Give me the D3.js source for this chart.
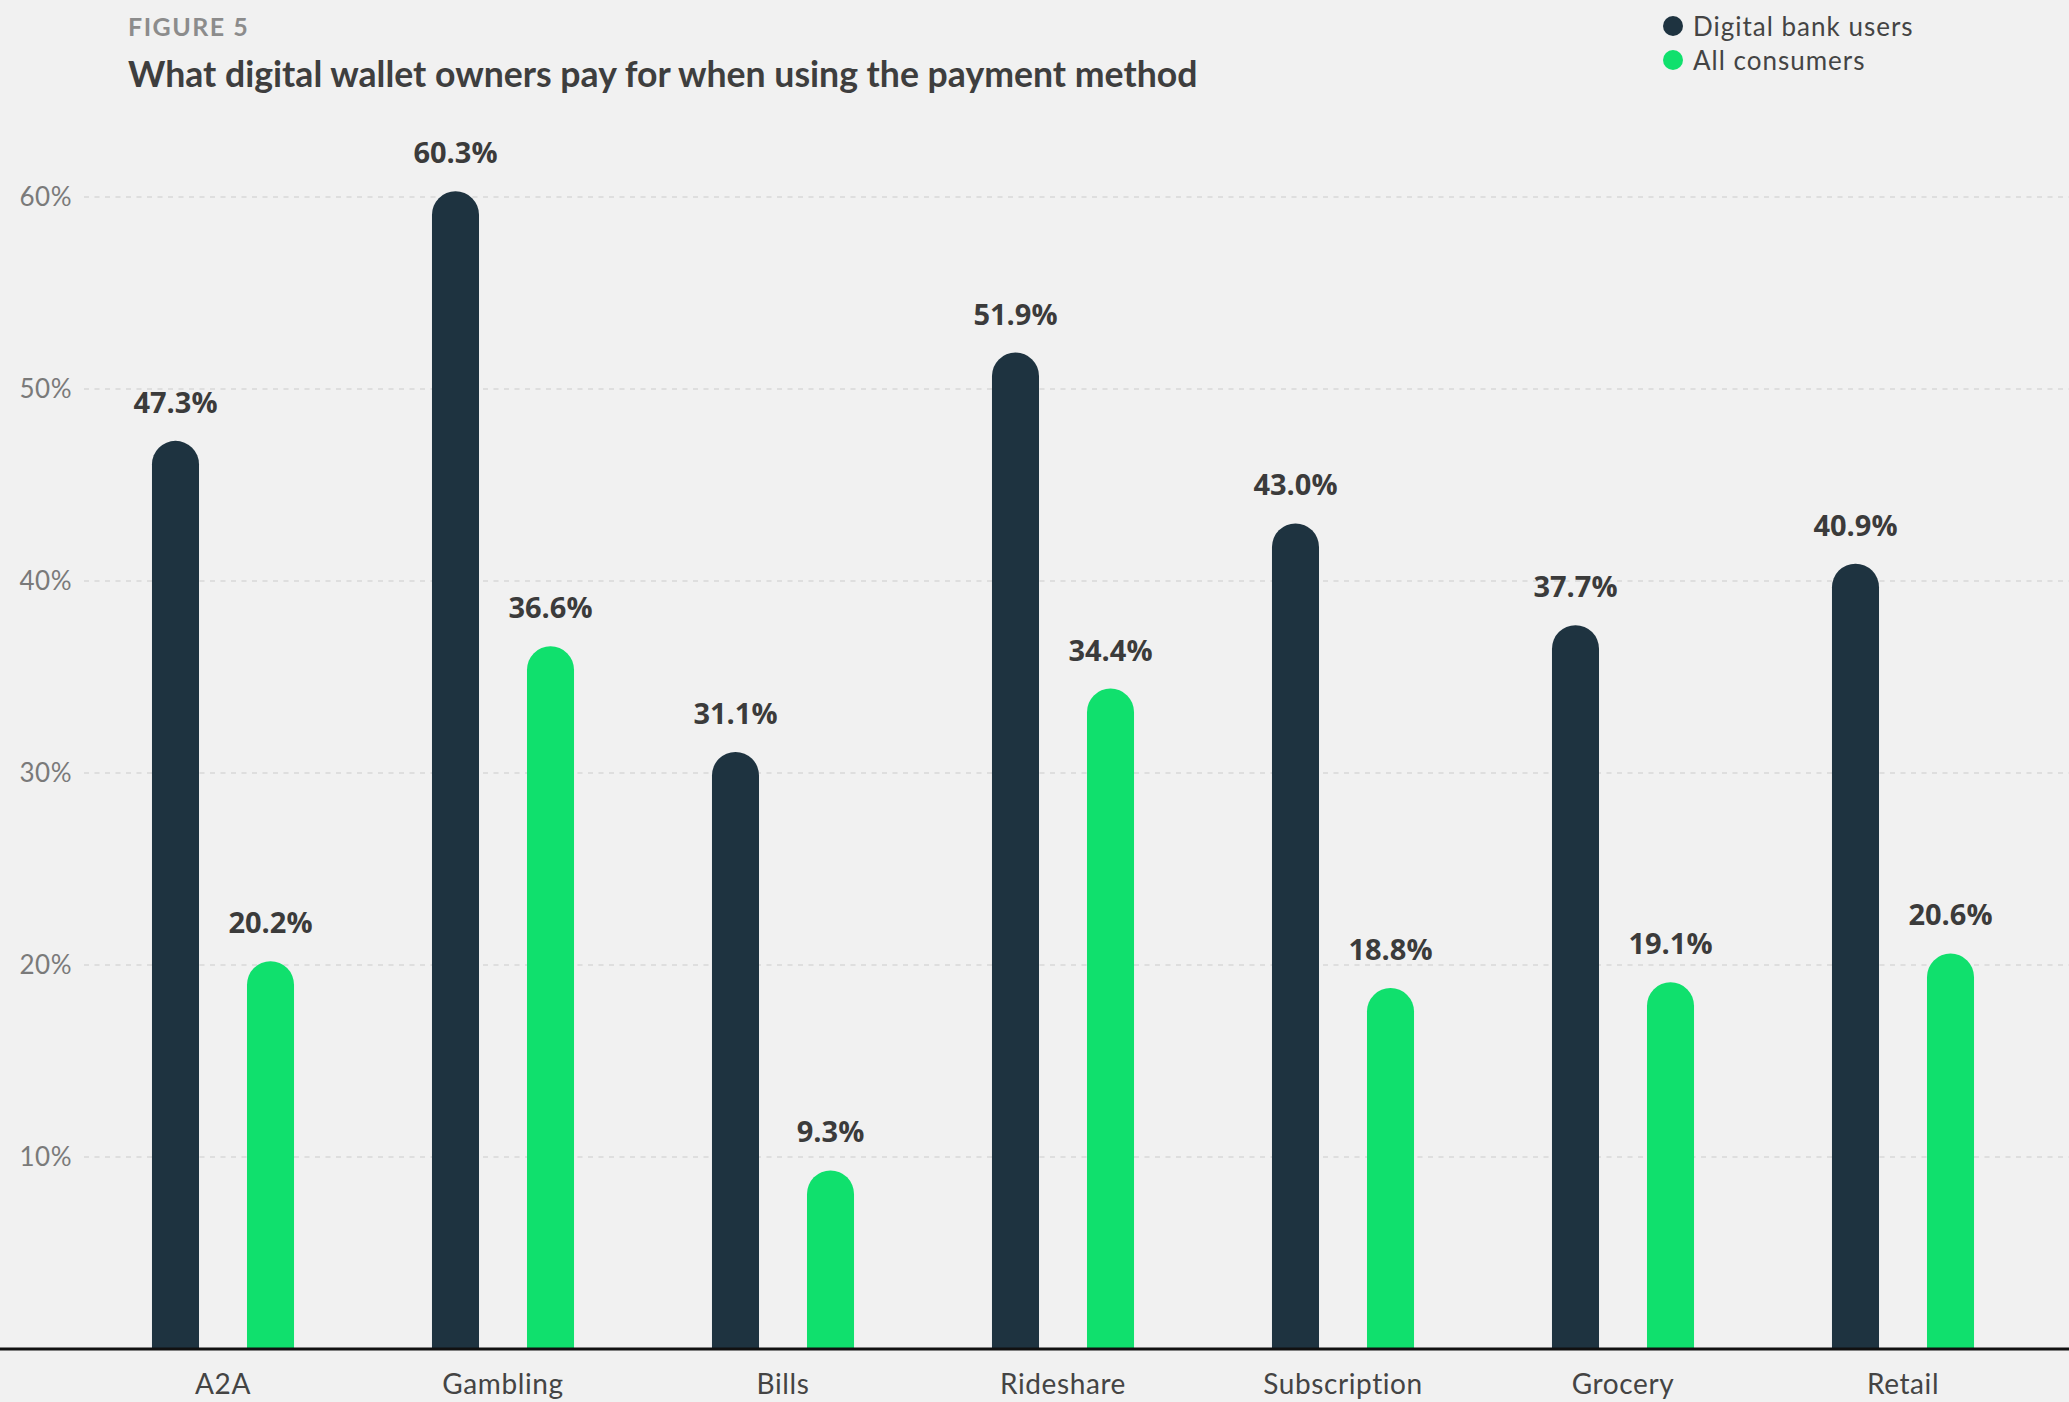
<!DOCTYPE html>
<html>
<head>
<meta charset="utf-8">
<script src="https://cdn.jsdelivr.net/npm/d3@7"></script>
<style>
  html, body { margin: 0; padding: 0; background: #f1f1f1; }
  svg { display: block; }
</style>
</head>
<body>
<svg id="chart" width="2069" height="1402"></svg>
<script>
const categories = ["A2A", "Gambling", "Bills", "Rideshare", "Subscription", "Grocery", "Retail"];
const seriesNames = ["Digital bank users", "All consumers"];
const digitalBankUsers = [47.3, 60.3, 31.1, 51.9, 43.0, 37.7, 40.9];
const allConsumers = [20.2, 36.6, 9.3, 34.4, 18.8, 19.1, 20.6];
const yTicks = [10, 20, 30, 40, 50, 60];
const colors = ["#1e3340", "#10e06d"];

const W = 2069, H = 1402;
const svg = d3.select("#chart");
svg.append("rect").attr("width", W).attr("height", H).attr("fill", "#f1f1f1");

const y = d3.scaleLinear().domain([0, 60]).range([1349, 197]);
const x0 = d3.scaleBand().domain(categories).range([83, 2043]).padding(0);
const x1 = d3.scaleBand().domain(seriesNames).range([0, x0.bandwidth()])
  .paddingInner(0.505).paddingOuter(0.726);

// gridlines
const grid = svg.append("g");
grid.selectAll("line").data(yTicks).join("line")
  .attr("x1", 84).attr("x2", W)
  .attr("y1", d => y(d)).attr("y2", d => y(d))
  .attr("stroke", "#cbcbcb").attr("stroke-width", 1.2)
  .attr("stroke-dasharray", "5,5.5");

// y axis labels
const yAxis = d3.axisLeft(y).tickValues(yTicks).tickFormat(d => d + "%").tickSize(0).tickPadding(0);
const ya = svg.append("g").attr("transform", "translate(72,0)").call(yAxis);
ya.select(".domain").remove();
ya.selectAll("text")
  .attr("font-family", "Lato, 'Open Sans', sans-serif")
  .attr("font-size", 26).attr("letter-spacing", 0.5).attr("fill", "#7a7a7a");

// bars
const data = categories.map((c, i) => ({
  cat: c,
  vals: [
    { key: seriesNames[0], v: digitalBankUsers[i], ci: 0 },
    { key: seriesNames[1], v: allConsumers[i], ci: 1 }
  ]
}));

function barPath(x, w, yTop, yBase) {
  const r = w / 2;
  return `M${x},${yBase} L${x},${yTop + r} A${r},${r} 0 0 1 ${x + w},${yTop + r} L${x + w},${yBase} Z`;
}

const groups = svg.append("g").selectAll("g").data(data).join("g")
  .attr("transform", d => `translate(${x0(d.cat)},0)`);

groups.selectAll("path").data(d => d.vals).join("path")
  .attr("d", d => barPath(x1(d.key), x1.bandwidth(), y(d.v), y(0) + 1))
  .attr("fill", d => colors[d.ci]);

groups.selectAll("text.val").data(d => d.vals).join("text")
  .attr("class", "val")
  .attr("x", d => x1(d.key) + x1.bandwidth() / 2)
  .attr("y", d => y(d.v) - 28)
  .attr("text-anchor", "middle")
  .attr("font-family", "'Open Sans', Lato, sans-serif")
  .attr("font-weight", 700)
  .attr("font-size", 29)
  .attr("fill", "#3b3b3b")
  .text(d => d.v.toFixed(1) + "%");

// baseline
svg.append("line").attr("x1", 0).attr("x2", W).attr("y1", y(0)).attr("y2", y(0))
  .attr("stroke", "#111").attr("stroke-width", 3);

// x axis labels
const xAxis = d3.axisBottom(x0).tickSize(0).tickPadding(0);
const xa = svg.append("g").attr("transform", `translate(0,${y(0)})`).call(xAxis);
xa.select(".domain").remove();
xa.selectAll("text")
  .attr("dy", null)
  .attr("y", 45)
  .attr("font-family", "Lato, 'Open Sans', sans-serif")
  .attr("font-size", 28).attr("letter-spacing", 0.6).attr("fill", "#444");

// title block
svg.append("text").attr("x", 128).attr("y", 36)
  .attr("font-family", "Lato, sans-serif").attr("font-weight", 700)
  .attr("font-size", 25).attr("letter-spacing", 1.5).attr("fill", "#8c8c8c")
  .text("FIGURE 5");

const title = svg.append("text").attr("x", 128).attr("y", 87)
  .attr("font-family", "Lato, sans-serif").attr("font-weight", 700)
  .attr("font-size", 33).attr("fill", "#3e3e3e")
  .text("What digital wallet owners pay for when using the payment method");
const tw = title.node().getComputedTextLength();
title.attr("font-size", 33 * 1070 / tw);

// legend
const legend = svg.append("g").selectAll("g").data(seriesNames).join("g")
  .attr("transform", (d, i) => `translate(1673,${26 + i * 34})`);
legend.append("circle").attr("r", 10).attr("fill", (d, i) => colors[i]);
legend.append("text").attr("x", 20).attr("y", 10)
  .attr("font-family", "Lato, 'Open Sans', sans-serif")
  .attr("font-size", 26).attr("letter-spacing", 1).attr("fill", "#444")
  .text(d => d);
</script>
</body>
</html>
